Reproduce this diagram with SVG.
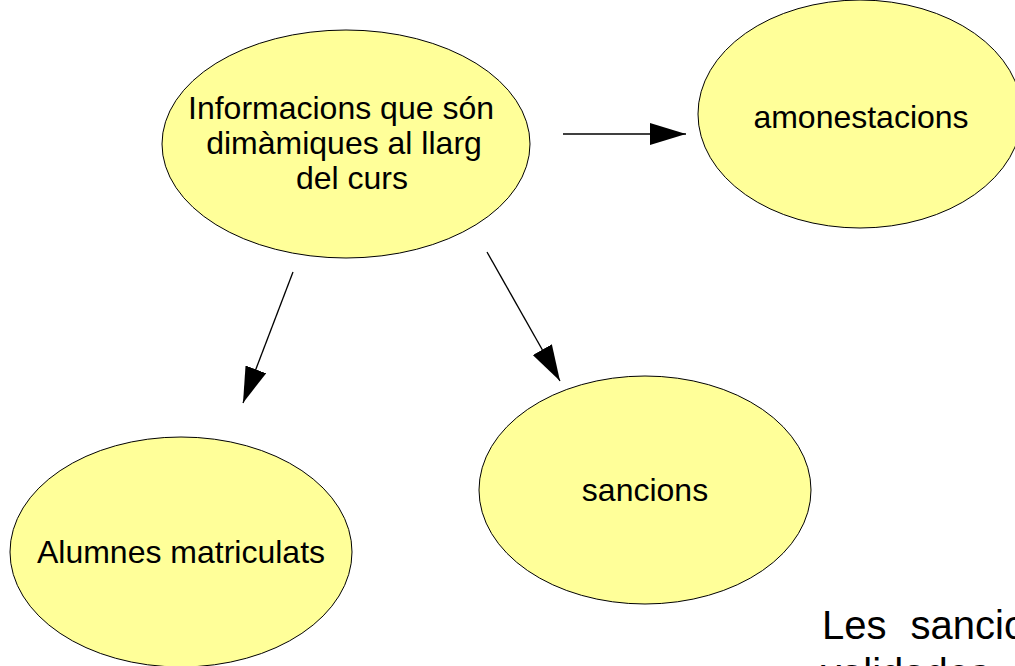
<svg xmlns="http://www.w3.org/2000/svg" width="1015" height="666" viewBox="0 0 1015 666">
<style>
.node ellipse{fill:#ffff99;stroke:#000;stroke-width:1}
.lbl{font-family:"Liberation Sans",Arial,sans-serif;font-size:32px;fill:#000;text-anchor:middle}
.conn line{stroke:#000;stroke-width:1.3}
.big{font-family:"Liberation Sans",Arial,sans-serif;font-size:40px;fill:#000}
</style>
<defs>
<marker id="ah" viewBox="0 0 36 22" refX="36" refY="11" markerWidth="36" markerHeight="22" markerUnits="userSpaceOnUse" orient="auto">
<path d="M0,0 L36,11 L0,22 Z" fill="#000"/>
</marker>
</defs>
<rect width="1015" height="666" fill="#fff"/>
<g id="n-info" class="node">
<ellipse cx="346" cy="144" rx="184" ry="114"/>
<text class="lbl" x="341" y="119">Informacions que són</text>
<text class="lbl" x="344" y="154">dimàmiques al llarg</text>
<text class="lbl" x="352" y="189">del curs</text>
</g>
<g id="n-amon" class="node">
<ellipse cx="860" cy="114" rx="162" ry="114"/>
<text class="lbl" x="861" y="128">amonestacions</text>
</g>
<g id="n-sanc" class="node">
<ellipse cx="645" cy="490" rx="166" ry="114"/>
<text class="lbl" x="645" y="501">sancions</text>
</g>
<g id="n-alum" class="node">
<ellipse cx="181" cy="552" rx="171" ry="115"/>
<text class="lbl" x="181" y="563">Alumnes matriculats</text>
</g>
<g id="connectors" class="conn">
<line x1="563" y1="134" x2="686" y2="134" marker-end="url(#ah)"/>
<line x1="293" y1="272" x2="243" y2="403" marker-end="url(#ah)"/>
<line x1="487" y1="252" x2="560" y2="381" marker-end="url(#ah)"/>
</g>
<text class="big" x="822" y="639" word-spacing="13">Les sancions</text>
<text class="big" x="821" y="687">validades</text>
</svg>
